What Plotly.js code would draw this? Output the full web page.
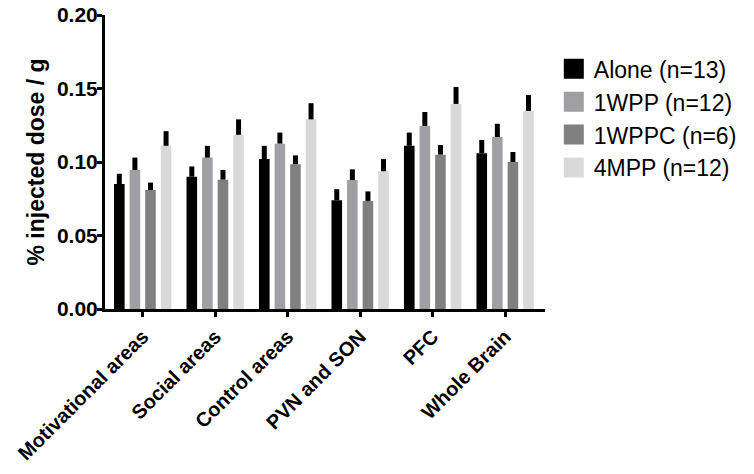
<!DOCTYPE html>
<html>
<head>
<meta charset="utf-8">
<script src="https://cdn.plot.ly/plotly-3.0.1.min.js"></script>
<style>
  body { margin: 0; background: #fff; }
  #grafico { width: 754px; height: 474px; }
</style>
</head>
<body>
<div id="grafico"></div>
<script>
// Regiones del cerebro
const regiones = ["Motivational areas", "Social areas", "Control areas", "PVN and SON", "PFC", "Whole Brain"];

// Medias por grupo
const alone = [0.085, 0.090, 0.102, 0.074, 0.111, 0.106];
const wpp1 = [0.0946, 0.103, 0.1125, 0.0877, 0.1245, 0.117];
const wppc1 = [0.081, 0.088, 0.0985, 0.0735, 0.105, 0.100];
const mpp4 = [0.111, 0.1185, 0.129, 0.0937, 0.1395, 0.1347];

// Error (solo hacia arriba)
const errAlone = [0.007, 0.007, 0.009, 0.0075, 0.009, 0.009];
const errWpp1 = [0.0084, 0.008, 0.0075, 0.0073, 0.0095, 0.009];
const errWppc1 = [0.005, 0.0066, 0.006, 0.0065, 0.0066, 0.0068];
const errMpp4 = [0.010, 0.0105, 0.011, 0.0083, 0.0115, 0.0109];

const nombres = ["Alone (n=13)", "1WPP (n=12)", "1WPPC (n=6)", "4MPP (n=12)"];
const colores = ["#000000", "#a0a0a4", "#808080", "#d9d9d9"];

const series = [alone, wpp1, wppc1, mpp4];
const errores = [errAlone, errWpp1, errWppc1, errMpp4];

// Barras (sin leyenda propia)
const barras = series.map((valores, i) => ({
  type: "bar",
  x: regiones,
  y: valores,
  name: nombres[i],
  showlegend: false,
  marker: { color: colores[i], line: { width: 0 } },
  error_y: {
    type: "data",
    symmetric: false,
    array: errores[i],
    arrayminus: valores.map(() => 0),
    color: "#000000",
    thickness: 5,
    width: 0
  }
}));

// Entradas de leyenda con cuadrados más grandes
const leyenda = nombres.map((nombre, i) => ({
  type: "scatter",
  mode: "markers",
  x: [null],
  y: [null],
  name: nombre,
  marker: { symbol: "square", size: 16, color: colores[i], line: { width: 4, color: colores[i] } }
}));

const datos = barras.concat(leyenda);

const diseño = {
  width: 754,
  height: 474,
  margin: { l: 105, r: 205, t: 15, b: 165 },
  paper_bgcolor: "#ffffff",
  plot_bgcolor: "#ffffff",
  font: { family: "Liberation Sans, Arial, sans-serif", color: "#000000" },
  barmode: "group",
  bargap: 0.14,
  bargroupgap: 0.32,
  showlegend: true,
  legend: {
    x: 1.02,
    y: 0.89,
    xanchor: "left",
    yanchor: "top",
    font: { size: 23, family: "Liberation Sans, Arial, sans-serif" },
    tracegroupgap: 0,
    itemsizing: "trace",
    itemwidth: 30
  },
  xaxis: {
    range: [-0.52, 5.55],
    showline: true,
    linecolor: "#000000",
    linewidth: 3,
    ticks: "outside",
    ticklen: 5,
    tickwidth: 3,
    tickcolor: "#000000",
    tickangle: -45,
    tickfont: { size: 20, weight: "bold" },
    showgrid: false,
    zeroline: false
  },
  yaxis: {
    range: [0, 0.2],
    tickvals: [0, 0.05, 0.10, 0.15, 0.20],
    ticktext: ["0.00", "0.05", "0.10", "0.15", "0.20"],
    showline: true,
    linecolor: "#000000",
    linewidth: 3,
    ticks: "outside",
    ticklen: 5,
    tickwidth: 3,
    tickcolor: "#000000",
    ticklabelstandoff: -5,
    tickfont: { size: 21, weight: "bold" },
    showgrid: false,
    zeroline: false,
    title: {
      text: "% injected dose / g",
      font: { size: 23, weight: "bold" },
      standoff: 6
    }
  }
};

Plotly.newPlot("grafico", datos, diseño, { displayModeBar: false });
</script>
</body>
</html>
